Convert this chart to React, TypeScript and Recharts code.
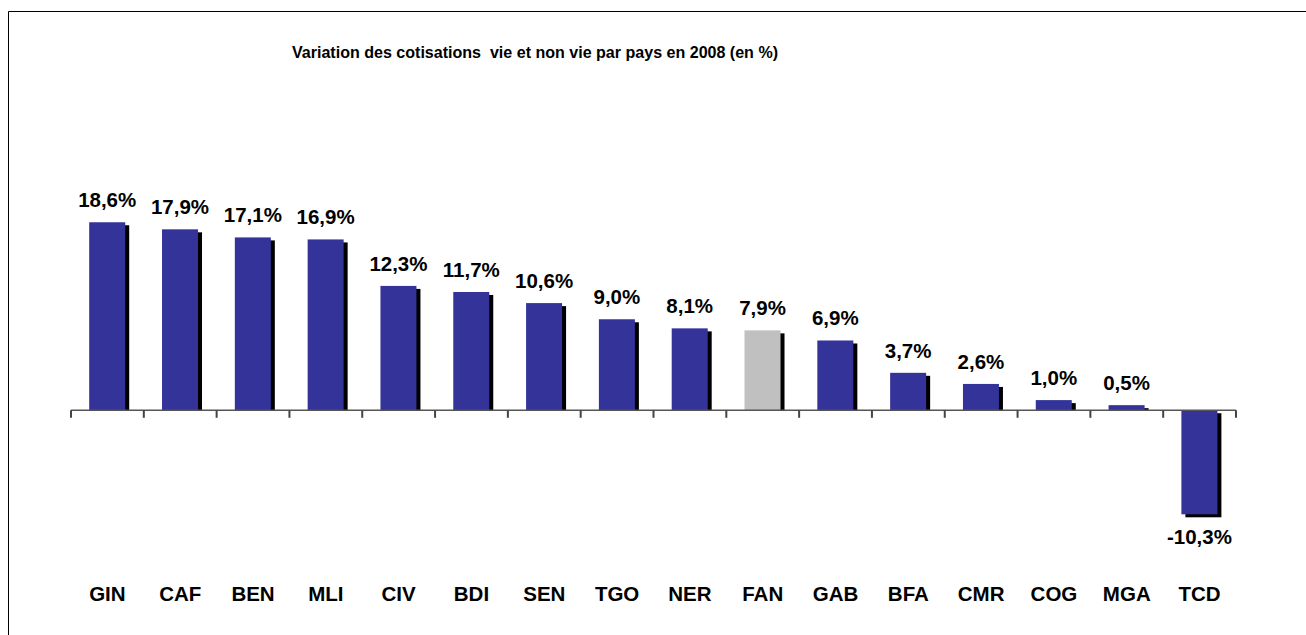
import React from 'react';
import { BarChart, Bar, XAxis, YAxis, ReferenceLine, LabelList } from 'recharts';

const COUNTRIES = ['GIN', 'CAF', 'BEN', 'MLI', 'CIV', 'BDI', 'SEN', 'TGO', 'NER', 'FAN', 'GAB', 'BFA', 'CMR', 'COG', 'MGA', 'TCD'];
const VARIATIONS = [18.6, 17.9, 17.1, 16.9, 12.3, 11.7, 10.6, 9.0, 8.1, 7.9, 6.9, 3.7, 2.6, 1.0, 0.5, -10.3];
const HIGHLIGHT = 'FAN';
const TITLE = 'Variation des cotisations  vie et non vie par pays en 2008 (en %)';

const FONT = '"Liberation Sans", Arial, sans-serif';
const BAR_COLOR = '#333399';
const HIGHLIGHT_COLOR = '#C0C0C0';

const data = COUNTRIES.map((c, i) => ({ name: c, value: VARIATIONS[i] }));

const fmt = (v: number) => v.toFixed(1).replace('.', ',') + '%';

// bar with a black drop shadow offset to the lower right
const ShadowBar = (props: any) => {
  const { x, y, width, height, payload } = props;
  const top = Math.min(y, y + height);
  const h = Math.abs(height);
  const negative = payload.value < 0;
  const fill = payload.name === HIGHLIGHT ? HIGHLIGHT_COLOR : BAR_COLOR;
  return (
    <g>
      <rect x={x + 4} y={top + 3} width={width} height={negative ? h : Math.max(h - 3, 0)} fill="#000" />
      <rect x={x} y={top} width={width} height={h} fill={fill} />
    </g>
  );
};

const ValueLabel = (props: any) => {
  const { x, y, width, height, value } = props;
  const top = Math.min(y, y + height);
  const bottom = Math.max(y, y + height);
  const cx = x + width / 2;
  const ty = value < 0 ? bottom + 30 : top - 15;
  return (
    <text x={cx} y={ty} textAnchor="middle" fontFamily={FONT} fontWeight="bold" fontSize={20.5} fill="#000">
      {fmt(value)}
    </text>
  );
};

export default function App() {
  return (
    <>
      <style>{`html,body{overflow:hidden;margin:0}`}</style>
      <div style={{ position: 'relative', width: 1306, height: 635 }}>
        {/* frame + title */}
        <svg width={1306} height={635} style={{ position: 'absolute', left: 0, top: 0 }}>
          <line x1={8.5} y1={11.5} x2={1306} y2={11.5} stroke="#000" strokeWidth={1} />
          <line x1={8.5} y1={11.5} x2={8.5} y2={635} stroke="#000" strokeWidth={1} />
          <text
            x={292}
            y={58}
            fontFamily={FONT}
            fontWeight="bold"
            fontSize={16}
            fill="#000"
            textLength={486}
            lengthAdjust="spacingAndGlyphs"
            style={{ whiteSpace: 'pre' }}
          >
            {TITLE}
          </text>
        </svg>
        <div style={{ position: 'absolute', left: 9, top: 12 }}>
          <BarChart
            width={1297}
            height={623}
            data={data}
            margin={{ top: 186, right: 70, bottom: 23, left: 62 }}
            barCategoryGap="25%"
          >
            <XAxis
              dataKey="name"
              axisLine={false}
              tickLine={false}
              tickSize={4}
              tickMargin={0}
              interval={0}
              tick={{ fontFamily: FONT, fontWeight: 'bold', fontSize: 20.5, fill: '#000' }}
            />
            <YAxis hide domain={[-17, 21]} />
            <ReferenceLine y={0} stroke="#555" strokeWidth={1.5} />
            <Bar dataKey="value" shape={<ShadowBar />} isAnimationActive={false}>
              <LabelList dataKey="value" content={<ValueLabel />} />
            </Bar>
            {COUNTRIES.map((c) => (
              <ReferenceLine
                key={c}
                segment={[{ x: c, y: 0 }, { x: c, y: -0.75 }]}
                position="start"
                stroke="#444"
                strokeWidth={2}
                ifOverflow="visible"
              />
            ))}
            <ReferenceLine
              segment={[{ x: COUNTRIES[COUNTRIES.length - 1], y: 0 }, { x: COUNTRIES[COUNTRIES.length - 1], y: -0.75 }]}
              position="end"
              stroke="#444"
              strokeWidth={2}
              ifOverflow="visible"
            />
          </BarChart>
        </div>
      </div>
    </>
  );
}
